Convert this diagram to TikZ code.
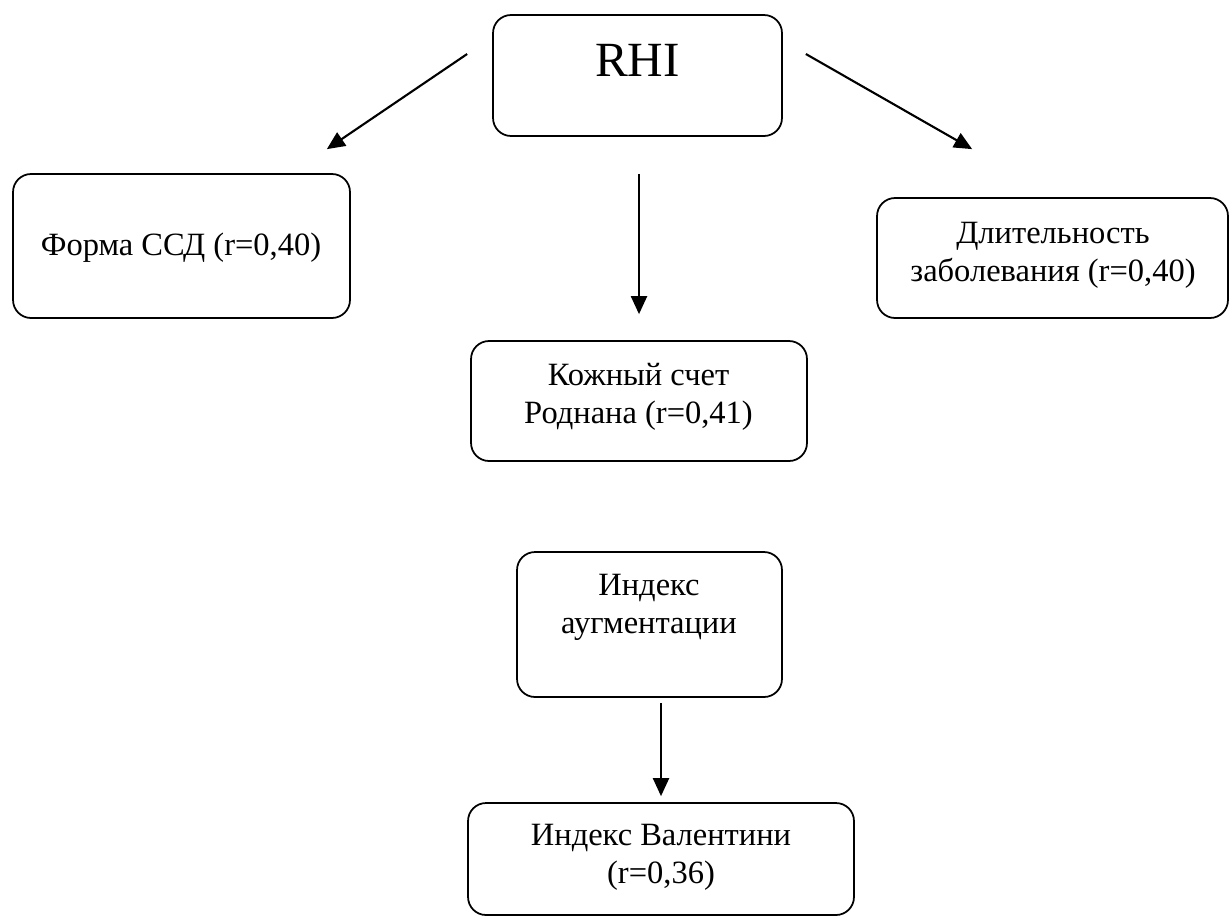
\documentclass[tikz,border=0pt]{standalone}
\usepackage{fontspec}
\setmainfont{Liberation Serif}
\usetikzlibrary{arrows.meta,positioning}

\begin{document}
\begin{tikzpicture}[x=0.02cm,y=-0.02cm,
  box/.style={draw,line width=1pt,rounded corners=0.36cm,inner sep=0pt},
  txt/.style={align=center,inner sep=0pt,font=\fontsize{18.5}{21.5}\selectfont},
  arr/.style={line width=1.2pt,-{Triangle[length=0.36cm,width=0.32cm]}}]
  \useasboundingbox (0,0) rectangle (1229,917);
  % boxes
  \node[box,minimum width=5.78cm,minimum height=2.42cm] (rhi)   at (637.5,75.5) {};
  \node[box,minimum width=6.74cm,minimum height=2.88cm] (forma) at (181.5,246) {};
  \node[box,minimum width=7.02cm,minimum height=2.4cm]  (dlit)  at (1052.5,258) {};
  \node[box,minimum width=6.72cm,minimum height=2.4cm]  (kozh)  at (639,401) {};
  \node[box,minimum width=5.3cm,minimum height=2.9cm]   (augm)  at (649.5,624.5) {};
  \node[box,minimum width=7.72cm,minimum height=2.24cm] (valent) at (661,859) {};
  % texts
  \node[txt,font=\fontsize{28}{32}\selectfont] (rhit) at (637.5,60) {RHI};
  \node[txt] (format)  at (181,248) {Форма ССД (r=0,40)};
  \node[txt] (dlitt)   at (1053,255) {Длительность\\заболевания (r=0,40)};
  \node[txt] (kozht)   at (638.5,397) {Кожный счет\\Роднана (r=0,41)};
  \node[txt] (augmt)   at (649,607) {Индекс\\аугментации};
  \node[txt] (valentt) at (661,857) {Индекс Валентини\\(r=0,36)};
  % arrows
  \draw[arr] ([shift={(-25,-21.5)}]rhi.west) -- ([shift={(-24,-24)}]forma.north east);
  \draw[arr] ([shift={(23,-21.5)}]rhi.east) -- ([shift={(96,-48)}]dlit.north west);
  \draw[arr,shorten <=0.74cm,shorten >=0.52cm] (kozh.north |- rhi.south) -- (kozh.north);
  \draw[arr,shorten <=0.1cm,shorten >=0.12cm] (valent.north |- augm.south) -- (valent.north);
\end{tikzpicture}
\end{document}
